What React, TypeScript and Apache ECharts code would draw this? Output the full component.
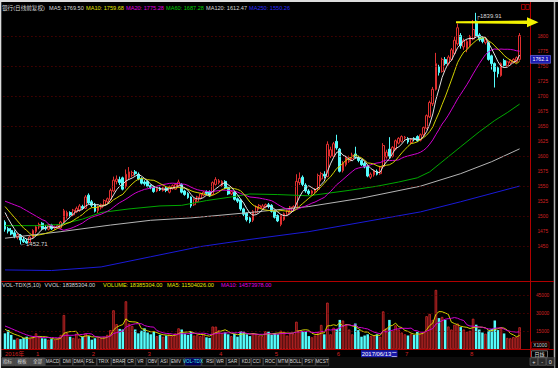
import React, { useEffect, useRef } from "react";
import * as echarts from "echarts";

const FONT = '"Liberation Sans", "Noto Sans CJK SC", sans-serif';

// ---- data ----
const monthStarts = [0, 10, 28, 46, 69, 87, 107, 129, 150];
const monthLabels = ["2016年", "1", "2", "3", "4", "5", "6", "7", "8"];

// [open, close, low, high]
const ohlc: number[][] = [
  [1490, 1478, 1474, 1493], [1479, 1475, 1471, 1482], [1476, 1470, 1468, 1480], [1472, 1466, 1463, 1476],
  [1464, 1469, 1461, 1471], [1468, 1460, 1452.71, 1470], [1461, 1457, 1455, 1465], [1458, 1455, 1454, 1462],
  [1456, 1465, 1455, 1467], [1464, 1476, 1462, 1478], [1474, 1482, 1471, 1485], [1482, 1486, 1478, 1489],
  [1488, 1479, 1477, 1490], [1481, 1479, 1476, 1485], [1478, 1485, 1476, 1487], [1485, 1479, 1477, 1487],
  [1480, 1482, 1477, 1484], [1481, 1484, 1479, 1486], [1480, 1490, 1478, 1492], [1490, 1509, 1488, 1512],
  [1499, 1506, 1496, 1509], [1506, 1502, 1499, 1508], [1502, 1510, 1500, 1512], [1507, 1513, 1505, 1516],
  [1510, 1517, 1507, 1520], [1516, 1513, 1511, 1519], [1513, 1532, 1512, 1535], [1535, 1522, 1520, 1538],
  [1524, 1518, 1515, 1527], [1520, 1508, 1506, 1522], [1509, 1516, 1505, 1518], [1514, 1519, 1511, 1521],
  [1518, 1526, 1516, 1528], [1524, 1529, 1521, 1531], [1528, 1543, 1526, 1546], [1542, 1560, 1540, 1566],
  [1558, 1562, 1553, 1568], [1561, 1556, 1552, 1566], [1564, 1545, 1543, 1566], [1550, 1570, 1546, 1578],
  [1564, 1574, 1561, 1582], [1568, 1573, 1565, 1576], [1574, 1571, 1568, 1577], [1570, 1562, 1560, 1573],
  [1563, 1555, 1553, 1565], [1557, 1554, 1551, 1560], [1558, 1550, 1548, 1560], [1551, 1548, 1545, 1553],
  [1549, 1541, 1539, 1551], [1542, 1546, 1540, 1548], [1547, 1544, 1542, 1549], [1543, 1547, 1541, 1549],
  [1547, 1543, 1540, 1549], [1540, 1549, 1538, 1551], [1546, 1551, 1544, 1553], [1545, 1553, 1544, 1555],
  [1550, 1557, 1548, 1561], [1553, 1540, 1538, 1555], [1542, 1536, 1534, 1544], [1538, 1531, 1529, 1540],
  [1532, 1517, 1514, 1533], [1519, 1528, 1517, 1530], [1524, 1532, 1522, 1534], [1530, 1537, 1528, 1539],
  [1535, 1540, 1533, 1542], [1541, 1538, 1535, 1543], [1541, 1534, 1532, 1543], [1536, 1556, 1535, 1558],
  [1553, 1561, 1551, 1565], [1556, 1559, 1553, 1562], [1551, 1558, 1549, 1560], [1558, 1547, 1545, 1560],
  [1548, 1537, 1535, 1550], [1537, 1541, 1535, 1543], [1540, 1528, 1526, 1542], [1529, 1525, 1522, 1531],
  [1527, 1512, 1509, 1528], [1512, 1503, 1500, 1514], [1505, 1494, 1491, 1506], [1497, 1491, 1488, 1499],
  [1493, 1508, 1490, 1510], [1506, 1516, 1504, 1518], [1514, 1518, 1511, 1520], [1513, 1517, 1511, 1520],
  [1515, 1519, 1513, 1521], [1519, 1516, 1513, 1522], [1518, 1508, 1506, 1520], [1508, 1498, 1496, 1510],
  [1501, 1492, 1490, 1503], [1486, 1501, 1483, 1503], [1494, 1504, 1492, 1506], [1503, 1509, 1500, 1511],
  [1506, 1515, 1504, 1517], [1513, 1516, 1510, 1518], [1515, 1558, 1514, 1570], [1556, 1563, 1552, 1573],
  [1565, 1553, 1550, 1568], [1552, 1542, 1539, 1555], [1542, 1538, 1535, 1545], [1538, 1542, 1535, 1544],
  [1541, 1545, 1538, 1547], [1545, 1568, 1543, 1571], [1562, 1571, 1558, 1574], [1570, 1567, 1563, 1575],
  [1566, 1620, 1565, 1625], [1600, 1611, 1597, 1616], [1600, 1621, 1598, 1624], [1625, 1614, 1611, 1636],
  [1612, 1575, 1573, 1614], [1576, 1589, 1573, 1592], [1586, 1598, 1583, 1601], [1592, 1598, 1589, 1601],
  [1596, 1602, 1594, 1606], [1604, 1598, 1596, 1616], [1598, 1593, 1590, 1601], [1593, 1586, 1584, 1595],
  [1588, 1582, 1580, 1591], [1583, 1567, 1565, 1585], [1565, 1570, 1562, 1573], [1569, 1576, 1566, 1578],
  [1575, 1570, 1568, 1578], [1571, 1582, 1569, 1584], [1583, 1618, 1582, 1622], [1599, 1607, 1596, 1611],
  [1612, 1600, 1597, 1632], [1600, 1615, 1598, 1617], [1612, 1626, 1610, 1628], [1622, 1630, 1620, 1632],
  [1625, 1633, 1623, 1635], [1631, 1632, 1628, 1634], [1630, 1624, 1621, 1632], [1623, 1628, 1620, 1630],
  [1630, 1628, 1625, 1632], [1633, 1626, 1624, 1635], [1627, 1636, 1625, 1638], [1636, 1648, 1632, 1650],
  [1647, 1668, 1645, 1670], [1666, 1690, 1664, 1693], [1688, 1712, 1684, 1716], [1712, 1755, 1710, 1773],
  [1750, 1740, 1735, 1753], [1742, 1762, 1740, 1765], [1762, 1755, 1752, 1766], [1755, 1766, 1752, 1769],
  [1762, 1778, 1760, 1781], [1772, 1794, 1770, 1800], [1788, 1815, 1785, 1822], [1802, 1785, 1780, 1806],
  [1783, 1794, 1778, 1797], [1780, 1792, 1774, 1795], [1786, 1800, 1783, 1803], [1796, 1812, 1794, 1828],
  [1826, 1801, 1798, 1839.91], [1803, 1795, 1792, 1806], [1798, 1792, 1789, 1800], [1790, 1795, 1787, 1798],
  [1790, 1762, 1760, 1792], [1768, 1755, 1745, 1770], [1755, 1742, 1715, 1757], [1748, 1738, 1732, 1750],
  [1735, 1755, 1733, 1757], [1760, 1752, 1749, 1763], [1752, 1758, 1750, 1760], [1756, 1760, 1753, 1762],
  [1758, 1762, 1755, 1764], [1758, 1765, 1756, 1767], [1762, 1802, 1760, 1806],
];

// volume, x1000
const volume: number[] = [
  13300, 16000, 12000, 8000, 9200, 8500, 9500, 10500, 9000, 10500,
  13300, 10500, 9200, 9000, 8000, 8500, 8000, 9200, 12000, 28600,
  13500, 10500, 9500, 13000, 9000, 10500, 13300, 11000, 8000, 9200,
  9200, 9500, 10500, 12000, 16000, 32500, 21000, 17000, 16500, 40000,
  21500, 19500, 16500, 13300, 15500, 17500, 14000, 12500, 14500, 11000,
  12000, 10500, 11500, 12500, 11000, 13300, 17500, 16500, 13000, 12000,
  15000, 11500, 12000, 11000, 12500, 10000, 9500, 19000, 18900, 16000,
  13500, 14000, 12500, 11000, 13000, 10500, 15000, 14700, 12500, 11000,
  13000, 12500, 11500, 11000, 15000, 14700, 12000, 13500, 12500, 15500,
  14500, 11500, 13300, 13000, 23000, 16000, 15000, 14500, 11000, 10000,
  11500, 14500, 20300, 12500, 38900, 12500, 18000, 17000, 24500, 24000,
  20000, 16500, 12500, 21500, 16000, 10500, 11500, 12500, 11000, 11500,
  12500, 10500, 31600, 17500, 24500, 15500, 20000, 16500, 14000, 12500,
  11500, 13000, 12000, 14500, 13000, 14500, 27600, 29500, 24500, 49500,
  26000, 27000, 24500, 19000, 16500, 20500, 21500, 18500, 16500, 14500,
  15500, 25500, 20500, 16500, 14000, 13000, 15500, 17000, 24000, 16000,
  18000, 13220, 9500, 9200, 10200, 10235, 18385.304,
];

// moving-average values before enough bars exist
const ma5Head = [1506, 1496, 1487, 1479];
const ma10Head = [1516, 1510, 1504, 1498, 1492, 1486, 1480, 1476, 1471];
const ma20Head = [1525, 1523, 1521, 1519, 1517, 1515, 1512, 1509, 1506, 1503, 1500, 1497, 1494, 1492, 1487, 1484, 1482, 1480, 1478];
const vma5Head = [16700, 15200, 13800, 12600];
const vma10Head = [19400, 18400, 17300, 16200, 15100, 14000, 13000, 12000, 11200];

// long moving averages: [bar index, value]
const ma60Pts = [[0, 1484], [10, 1484], [18, 1486], [25, 1495], [31, 1506], [40, 1512], [50, 1517], [57, 1518], [65, 1526], [73, 1532], [79, 1537], [88, 1536], [98, 1534], [111, 1543], [120, 1550], [127, 1557], [133, 1564], [137, 1574], [142, 1595], [147, 1616], [153, 1641], [158, 1660], [162, 1673], [166, 1687.28]];
const ma120Pts = [[0, 1463], [18, 1474], [34, 1485], [47, 1493], [60, 1497], [79, 1506], [98, 1516], [115, 1530], [134, 1550], [147, 1571], [157, 1591], [166, 1612.47]];
const ma250Pts = [[0, 1410], [15, 1409], [31, 1415], [47, 1432], [63, 1449], [79, 1461], [98, 1474], [134, 1507], [147, 1524], [166, 1550.26]];

const priceGridLevels = [1450, 1500, 1550, 1600, 1650, 1700, 1750, 1800];
const volGridLevels = [15000, 30000, 45000];
const highIndex = 152;
const highValue = 1839.91;
const lowIndex = 5;
const lowValue = 1452.71;
const cursorIndex = 115;
const cursorDate = "2017/06/13二";
const cursorPrice = 1762.1;

const headerTexts = ["银行(日线前复权)", "MA5: 1769.50", "MA10: 1759.68", "MA20: 1775.28", "MA60: 1687.28", "MA120: 1612.47", "MA250: 1550.26"];
const volHeaderTexts = ["VOL-TDX(5,10)", "VVOL: 18385304.00", "VOLUME: 18385304.00", "MA5: 11504026.00", "MA10: 14573978.00"];
const tabNames = ["指标", "模板", "全部", "MACD", "DMI", "DMA", "FSL", "TRIX", "BRAR", "CR", "VR", "OBV", "ASI", "EMV", "VOL-TDX", "RSI", "WR", "SAR", "KDJ", "CCI", "ROC", "MTM", "BOLL", "PSY", "MCST"];

// ---- layout / style ----
const headerX = [2, 49, 86, 126, 166, 206, 249];
const headerColors = ["#d8d8d8", "#d8d8d8", "#e6e600", "#e000e0", "#00d000", "#d8d8d8", "#2a2aff"];
const volHeaderX = [2, 44.5, 103, 167, 221];
const volHeaderColors = ["#d8d8d8", "#d8d8d8", "#e6e600", "#e6e600", "#e000e0"];
const tabCenters = [7.5, 22, 37.5, 52.5, 67, 78.5, 90, 103.5, 119, 130.5, 140.5, 152.5, 164, 176, 193, 210, 220, 232.5, 246, 256.5, 270, 283, 295.5, 309, 322];

function movingAvg(vals: number[], n: number, head: number[]) {
  return vals.map((_, i) => {
    if (i < n - 1) return head[i];
    let s = 0;
    for (let k = i - n + 1; k <= i; k++) s += vals[k];
    return +(s / n).toFixed(2);
  });
}

function txt(text: string, x: number, y: number, fill: string, fontSize: number, align = "left", z = 120) {
  return {
    type: "text",
    z,
    style: { text, x, y, fill, fontSize, fontFamily: FONT, textAlign: align, textVerticalAlign: "middle" },
  };
}
function line(x1: number, y1: number, x2: number, y2: number, stroke: string, lineWidth = 1) {
  return { type: "line", z: 90, shape: { x1, y1, x2, y2 }, style: { stroke, lineWidth } };
}

function buildGraphics(xCur: number, yCur: number) {
  const g: any[] = [];
  // frame
  g.push({ type: "rect", z: 95, shape: { x: 0, y: 0, width: 558, height: 2 }, style: { fill: "#dcdcdc" } });
  g.push({ type: "rect", z: 95, shape: { x: 0, y: 0, width: 1.3, height: 368 }, style: { fill: "#dcdcdc" } });
  g.push(line(554.5, 0, 554.5, 368, "#b4b4b4", 1.5));
  g.push(line(530.5, 2, 530.5, 357, "#b00000", 1));
  g.push(line(0, 281.5, 554, 281.5, "#b00000", 1));
  g.push(line(0, 349.5, 554, 349.5, "#b00000", 1));
  // header
  headerTexts.forEach((t, i) => g.push(txt(t, headerX[i], 7.5, headerColors[i], 5.6)));
  volHeaderTexts.forEach((t, i) => g.push(txt(t, volHeaderX[i], 285, volHeaderColors[i], 5.6)));
  // top-right icons
  g.push({ type: "rect", z: 100, shape: { x: 521.5, y: 4.5, width: 3.5, height: 5 }, style: { fill: "none", stroke: "#c00000", lineWidth: 0.8 } });
  g.push({ type: "rect", z: 100, shape: { x: 525.8, y: 4.5, width: 3.5, height: 5 }, style: { fill: "none", stroke: "#c00000", lineWidth: 0.8 } });
  // yellow arrow
  g.push({
    type: "polygon",
    z: 110,
    shape: { points: [[456, 21.3], [527, 20.6], [527, 17.3], [538.5, 22.3], [527, 27.3], [527, 24], [456, 23.2]] },
    style: { fill: "#f2f200" },
  });
  // X1000 and 日线 boxes
  g.push({ type: "rect", z: 100, shape: { x: 531.5, y: 342, width: 17.5, height: 6.5 }, style: { fill: "#000", stroke: "#900000", lineWidth: 0.8 } });
  g.push(txt("X1000", 540.2, 345.3, "#d0d0d0", 4.8, "center"));
  g.push({ type: "rect", z: 100, shape: { x: 531.5, y: 350.8, width: 16, height: 6.5 }, style: { fill: "#000", stroke: "#808080", lineWidth: 0.8 } });
  g.push(txt("日线", 539.5, 354.1, "#e0e0e0", 5, "center"));
  // tab row
  g.push({ type: "rect", z: 95, shape: { x: 1.3, y: 357, width: 553, height: 11 }, style: { fill: "#0c0c0c" } });
  tabNames.forEach((t, i) => {
    const left = i === 0 ? 1.5 : (tabCenters[i - 1] + tabCenters[i]) / 2;
    const right = i === tabNames.length - 1 ? 329 : (tabCenters[i] + tabCenters[i + 1]) / 2;
    const fill = i < 3 ? "#4a4a4a" : t === "VOL-TDX" ? "#00005a" : "#101010";
    g.push({ type: "rect", z: 100, shape: { x: left + 0.3, y: 357.8, width: right - left - 0.6, height: 8 }, style: { fill, stroke: "#5a5a5a", lineWidth: 0.6 } });
    g.push(txt(t, tabCenters[i], 361.9, t === "VOL-TDX" ? "#40f0f0" : "#d8d8d8", 4.6, "center"));
  });
  ["+", "-", "0"].forEach((t, i) => {
    g.push({ type: "rect", z: 100, shape: { x: 530 + i * 8.3, y: 357.8, width: 7.6, height: 7.5 }, style: { fill: "#2a2a2a", stroke: "#6a6a6a", lineWidth: 0.6 } });
    g.push(txt(t, 533.8 + i * 8.3, 361.6, "#e0e0e0", 5.5, "center"));
  });
  // cursor boxes
  g.push({ type: "rect", z: 105, shape: { x: xCur - 0.5, y: 350.3, width: 36.5, height: 7 }, style: { fill: "#1818a8" } });
  g.push(txt(cursorDate, xCur + 0.3, 353.9, "#ffffff", 5.9, "left", 130));
  g.push({ type: "rect", z: 105, shape: { x: 530.5, y: yCur - 3.9, width: 20, height: 7.8 }, style: { fill: "#1818b0", stroke: "#8080ff", lineWidth: 0.6 } });
  g.push(txt(String(cursorPrice), 540.5, yCur, "#ffffff", 5.2, "center", 130));
  return g;
}

export default function App() {
  const ref = useRef<HTMLDivElement>(null);
  useEffect(() => {
    const el = ref.current!;
    const chart = echarts.init(el, null, { renderer: "svg", width: 558, height: 368 });
    const closes = ohlc.map((d) => d[1]);
    const ma5 = movingAvg(closes, 5, ma5Head);
    const ma10 = movingAvg(closes, 10, ma10Head);
    const ma20 = movingAvg(closes, 20, ma20Head);
    const vma5 = movingAvg(volume, 5, vma5Head);
    const vma10 = movingAvg(volume, 10, vma10Head);
    const cats = ohlc.map((_, i) => String(i)).concat(["e1", "e2", "e3"]);

    const volData = volume.map((v, i) => {
      const up = ohlc[i][1] >= ohlc[i][0];
      return {
        value: v,
        itemStyle: up
          ? { color: "#4a0c0c", borderColor: "#d42a2a", borderWidth: 0.8 }
          : { color: "#54fcfc", borderColor: "#54fcfc", borderWidth: 0 },
      };
    });

    const lineS = (data: any[], color: string, xi: number, yi: number) => ({
      type: "line",
      data,
      xAxisIndex: xi,
      yAxisIndex: yi,
      showSymbol: false,
      symbol: "none",
      silent: true,
      z: 4,
      lineStyle: { color, width: 1 },
    });

    const gridLineStyle = { color: "#700000", type: [1, 3], width: 1 };

    const option: any = {
      animation: false,
      backgroundColor: "#000000",
      textStyle: { fontFamily: FONT },
      grid: [
        { left: 3.45, right: 27.55, top: 6.8, bottom: 77.15, containLabel: false, outerBoundsMode: "none" },
        { left: 3.45, right: 27.55, top: 277.3, bottom: 18.7, containLabel: false, outerBoundsMode: "none" },
      ],
      xAxis: [
        { gridIndex: 0, type: "category", data: cats, boundaryGap: true, show: false },
        {
          gridIndex: 1,
          type: "category",
          data: cats,
          boundaryGap: true,
          axisLine: { show: false },
          axisTick: { show: false },
          splitLine: { show: false },
          axisLabel: {
            interval: (index: number) => monthStarts.includes(index),
            formatter: (_v: string, index: number) => {
              const k = monthStarts.indexOf(index);
              return k >= 0 ? monthLabels[k] : "";
            },
            color: "#d02020",
            fontSize: 6,
            margin: 1.2,
            align: "left",
            fontFamily: FONT,
          },
        },
      ],
      yAxis: [
        {
          gridIndex: 0,
          type: "value",
          position: "right",
          min: 1375,
          max: 1850,
          interval: 25,
          splitLine: { show: false },
          axisLine: { show: false },
          axisTick: { show: false },
          axisLabel: {
            formatter: (v: number) => (v >= 1450 && v <= 1800 ? String(v) : ""),
            color: "#d02020",
            fontSize: 4.8,
            margin: 7,
            align: "left",
            fontFamily: FONT,
          },
        },
        {
          gridIndex: 1,
          type: "value",
          position: "right",
          min: 0,
          max: 60000,
          interval: 15000,
          splitLine: { show: false },
          axisLine: { show: false },
          axisTick: { show: false },
          axisLabel: {
            formatter: (v: number) => (volGridLevels.includes(v) ? String(v) : ""),
            color: "#d02020",
            fontSize: 4.8,
            margin: 5.5,
            align: "left",
            fontFamily: FONT,
          },
        },
      ],
      series: [
        {
          type: "candlestick",
          data: ohlc,
          xAxisIndex: 0,
          yAxisIndex: 0,
          barWidth: 2.3,
          z: 3,
          itemStyle: {
            color: "#000000",
            color0: "#54fcfc",
            borderColor: "#e03030",
            borderColor0: "#54fcfc",
            borderWidth: 1,
          },
          markLine: {
            silent: true,
            symbol: ["none", "none"],
            label: { show: false },
            lineStyle: gridLineStyle,
            data: priceGridLevels.map((v) => ({ yAxis: v })),
          },
          markPoint: {
            symbol: "circle",
            symbolSize: 0,
            silent: true,
            label: { show: true, color: "#d8d8d8", fontSize: 6, fontFamily: FONT },
            data: [
              { coord: [highIndex, highValue], value: highValue, label: { formatter: "┌" + highValue.toFixed(2), position: [-0.5, 0], align: "left", verticalAlign: "top" } },
              { coord: [lowIndex, lowValue], value: lowValue, label: { formatter: "←" + lowValue.toFixed(2), position: [-0.5, 0], align: "left", verticalAlign: "middle" } },
            ],
          },
        },
        lineS(ma250Pts, "#1a1ad8", 0, 0),
        lineS(ma120Pts, "#b4b4b4", 0, 0),
        lineS(ma60Pts, "#00a800", 0, 0),
        lineS(ma20, "#d000d0", 0, 0),
        lineS(ma10, "#d2d200", 0, 0),
        lineS(ma5, "#e0e0e0", 0, 0),
        {
          type: "bar",
          data: volData,
          xAxisIndex: 1,
          yAxisIndex: 1,
          barWidth: 2.5,
          z: 3,
          markLine: {
            silent: true,
            symbol: ["none", "none"],
            label: { show: false },
            lineStyle: gridLineStyle,
            data: volGridLevels.map((v) => ({ yAxis: v })),
          },
        },
        lineS(vma5, "#d2d200", 1, 1),
        lineS(vma10, "#d000d0", 1, 1),
      ],
    };
    chart.setOption(option);
    const xCur = chart.convertToPixel({ xAxisIndex: 1 }, cursorIndex) as unknown as number;
    const yCur = chart.convertToPixel({ yAxisIndex: 0 }, cursorPrice) as unknown as number;
    chart.setOption({ graphic: buildGraphics(xCur, yCur) });
    return () => chart.dispose();
  }, []);
  return <div ref={ref} style={{ position: "fixed", left: 0, top: 0, width: 558, height: 368, background: "#000" }} />;
}
